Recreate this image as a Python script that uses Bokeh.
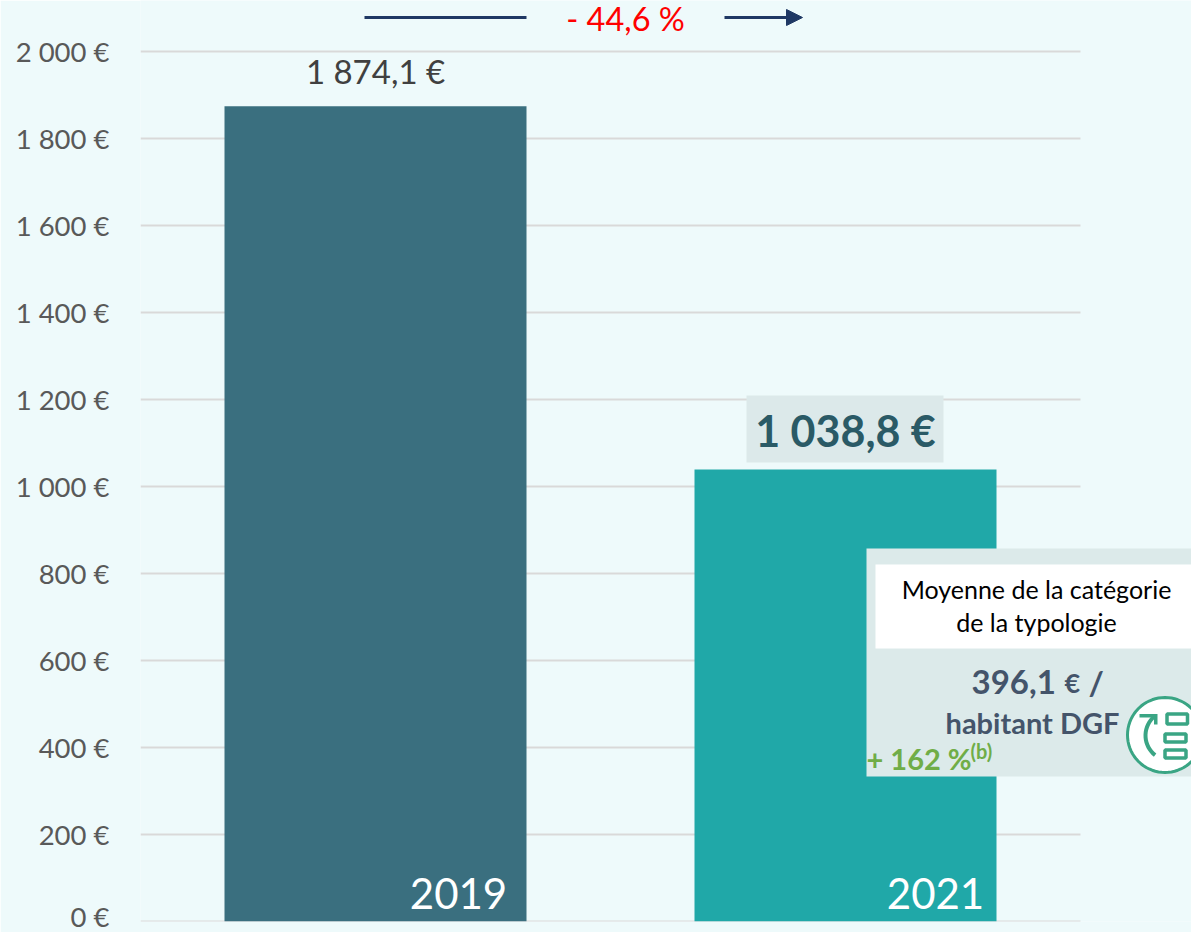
import math
from bokeh.plotting import figure
from bokeh.embed import file_html
from bokeh.resources import INLINE
from bokeh.models import (Range1d, FixedTicker, BoxAnnotation, Label,
                          PolyAnnotation, Arrow, NormalHead)
from bokeh.core.properties import value

years = ["2019", "2021"]
amounts = [1874.1, 1038.8]
bar_colors = ["#3A6F7F", "#20A8A8"]
y_ticks = [0, 200, 400, 600, 800, 1000, 1200, 1400, 1600, 1800, 2000]
y_labels = ["0 €", "200 €", "400 €", "600 €", "800 €", "1 000 €", "1 200 €", "1 400 €", "1 600 €", "1 800 €", "2 000 €"]
change_label = "- 44,6 %"
callout_title = ["Moyenne de la catégorie", "de la typologie"]
callout_value = "396,1"
callout_unit = "habitant DGF"
callout_delta = "+ 162 %"
callout_note = "(b)"

BG = "#EEFAFB"
FONT = "Lato"
W, H = 1191, 932
LEFT, RIGHT, TOP, BOTTOM = 140, 1191, 0, 921
CATEGORY_PX = 470
fmt = lambda v: f"{v:,.1f}".replace(",", " ").replace(".", ",") + " €"

positions = [i + 0.5 for i in range(len(years))]

p = figure(width=W, height=H, x_range=Range1d(0, (RIGHT - LEFT) / CATEGORY_PX),
           y_range=Range1d(0, (BOTTOM - TOP) / 0.435),
           output_backend="svg", toolbar_location=None,
           min_border_left=LEFT, min_border_right=W - RIGHT, min_border_top=TOP, min_border_bottom=H - BOTTOM,
           background_fill_color=BG, border_fill_color=BG, outline_line_color=None, margin=0)

p.xaxis.visible = False
p.xgrid.visible = False
p.ygrid.visible = False
ax = p.yaxis[0]
ax.ticker = FixedTicker(ticks=y_ticks)
ax.major_label_overrides = dict(zip(y_ticks, y_labels))
ax.axis_line_color = None
ax.major_tick_line_color = None
ax.minor_tick_line_color = None
ax.major_tick_out = 0
ax.major_label_standoff = 31
ax.major_label_text_font = FONT
ax.major_label_text_font_size = "27.5px"
ax.major_label_text_color = "#595959"

p.segment(x0=[0] * len(y_ticks), x1=[len(years)] * len(y_ticks), y0=y_ticks, y1=y_ticks,
          line_color="#D9D9D9", line_width=2)
p.vbar(x=positions, top=amounts, width=302 / CATEGORY_PX, color=bar_colors, line_color=None)
p.text(x=positions[:1], y=amounts[:1], text=[fmt(amounts[0])], y_offset=-35, text_align="center", text_baseline="middle",
       text_font=value(FONT), text_font_size="33px", text_color="#404040")
p.text(x=positions, y=[0, 0], text=years, x_offset=[83, 90], y_offset=-28, text_align="center", text_baseline="middle",
       text_font=value(FONT), text_font_size="42px", text_color="#FFFFFF")


def sx(px):
    return px - LEFT


def sy(py):
    return BOTTOM - py


def box(l, t, r, b, color):
    p.add_layout(BoxAnnotation(left=sx(l), right=sx(r), top=sy(t), bottom=sy(b),
                               left_units="screen", right_units="screen", top_units="screen", bottom_units="screen",
                               fill_color=color, fill_alpha=1, line_color=None))


def lab(px, py, text, size, color, bold=False, align="center"):
    p.add_layout(Label(x=sx(px), y=sy(py), x_units="screen", y_units="screen", text=text, text_align=align,
                       text_baseline="middle", text_font=FONT, text_font_size=f"{size}px", text_color=color,
                       text_font_style="bold" if bold else "normal"))


def poly(xs, ys, fill=None, line=None, width=1):
    p.add_layout(PolyAnnotation(xs=[sx(x) for x in xs], ys=[sy(y) for y in ys], xs_units="screen", ys_units="screen",
                                fill_color=fill, fill_alpha=1 if fill else 0, line_color=line, line_width=width,
                                line_alpha=1 if line else 0))


# Change arrow
NAVY = "#1F3864"
p.add_layout(Arrow(x_start=sx(364), x_end=sx(526), y_start=sy(17), y_end=sy(17), start_units="screen", end_units="screen",
                   end=None, line_color=NAVY, line_width=3))
p.add_layout(Arrow(x_start=sx(724), x_end=sx(802), y_start=sy(17), y_end=sy(17), start_units="screen", end_units="screen",
                   end=NormalHead(size=16, fill_color=NAVY, line_color=NAVY), line_color=NAVY, line_width=3))
lab(625, 18, change_label, 32.5, "#FF0000")

# 2021 value
box(746, 395, 943, 462, "#DCE9EA")
lab(845, 430, fmt(amounts[1]), 43, "#2A5A66", bold=True)

# Callout
box(866, 548, W, 776, "#DCEAEA")
box(875, 564, W, 648, "#FFFFFF")
lab(1036, 588, callout_title[0], 25, "#000000")
lab(1036, 621, callout_title[1], 25, "#000000")
SLATE = "#44546A"
lab(971, 681, callout_value, 33, SLATE, bold=True, align="left")
lab(1064, 682, "€", 27, SLATE, bold=True, align="left")
lab(1088, 681, "/", 33, SLATE, bold=True, align="left")
lab(1032, 722, callout_unit, 29, SLATE, bold=True)
lab(866, 758, callout_delta, 29, "#70AD47", bold=True, align="left")
lab(970, 750, callout_note, 20, "#70AD47", bold=True, align="left")

# Icon
GREEN = "#3AA584"
cx, cy, r = 1164.5, 734.5, 37.5
angles = [2 * math.pi * i / 72 for i in range(73)]
poly([cx + r * math.cos(a) for a in angles], [cy + r * math.sin(a) for a in angles], fill="#FFFFFF", line=GREEN, width=3)
for l, t, r_, b in [(1166.5, 713.5, 1187, 723.5), (1164.5, 733.5, 1185.5, 741.5), (1164.5, 749.5, 1185.5, 757.5)]:
    poly([l, r_, r_, l], [t, t, b, b], line=GREEN, width=3.5)
arc = [math.radians(a) for a in range(130, 236, 6)]
ax0, ay0, r0, r1 = 1170, 735, 23, 27
poly([ax0 + r1 * math.cos(a) for a in arc] + [ax0 + r0 * math.cos(a) for a in reversed(arc)],
     [ay0 - r1 * math.sin(a) for a in arc] + [ay0 - r0 * math.sin(a) for a in reversed(arc)],
     fill=GREEN)
poly([1139, 1157, 1157, 1153.5, 1153.5, 1139], [713.5, 713.5, 724, 724, 717, 717], fill=GREEN)

open("out.html", "w").write(file_html(p, INLINE))
